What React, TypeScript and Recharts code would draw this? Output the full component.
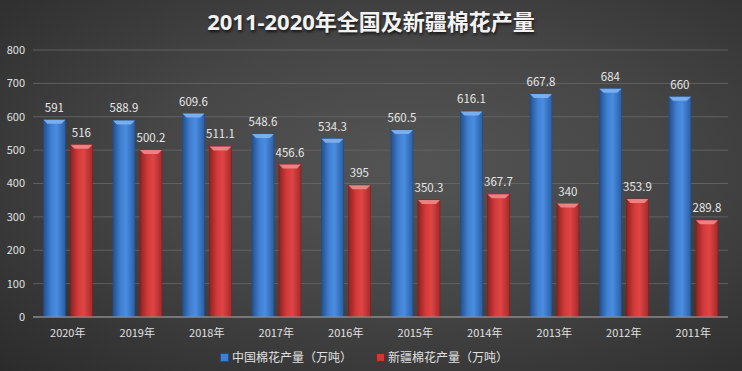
import React from 'react';
import { BarChart, Bar, XAxis, YAxis, CartesianGrid, Legend, LabelList } from 'recharts';

const years = ['2020年', '2019年', '2018年', '2017年', '2016年', '2015年', '2014年', '2013年', '2012年', '2011年'];
const chinaOutput = [591, 588.9, 609.6, 548.6, 534.3, 560.5, 616.1, 667.8, 684, 660];
const xinjiangOutput = [516, 500.2, 511.1, 456.6, 395, 350.3, 367.7, 340, 353.9, 289.8];
const yTicks = [0, 100, 200, 300, 400, 500, 600, 700, 800];

const SERIES = [
  { key: 'china', name: '中国棉花产量（万吨）', grad: 'gBlue', cap: '#7fb4f2', edge: '#1f4f8f', icon: '#3f7fd0' },
  { key: 'xinjiang', name: '新疆棉花产量（万吨）', grad: 'gRed', cap: '#f08a8a', edge: '#8a1c1c', icon: '#d03838' },
];

const chartData = years.map((y, i) => ({ year: y, china: chinaOutput[i], xinjiang: xinjiangOutput[i] }));

const FONT = '"Noto Sans CJK SC", "Noto Sans", sans-serif';

// cylinder-ish bar with a bevelled top like the office 3D style
const makeShape = (grad: string, cap: string, edge: string) => (props: any) => {
  const { x, y, width, height } = props;
  if (!height || height <= 0) return null;
  const b = 4;
  return (
    <g>
      <rect x={x} y={y} width={width} height={height} fill={`url(#${grad})`} stroke={edge} strokeWidth={0.6} />
      <path
        d={`M${x},${y} L${x + width},${y} L${x + width - b},${y + b} L${x + b},${y + b} Z`}
        fill={cap}
        opacity={0.9}
      />
    </g>
  );
};

const LegendContent = () => (
  <div style={{ display: 'flex', justifyContent: 'center', gap: 24, fontFamily: FONT, fontSize: 12, lineHeight: '18px', color: '#e0e0e0', paddingLeft: 0 }}>
    {SERIES.map(s => (
      <span key={s.key} style={{ display: 'flex', alignItems: 'center' }}>
        <span style={{ display: 'inline-block', width: 7, height: 7, marginRight: 3, background: s.icon, border: `1px solid ${s.edge}` }} />
        {s.name}
      </span>
    ))}
  </div>
);

export default function App() {
  return (
    <div
      style={{
        position: 'absolute',
        left: 0,
        top: 0,
        width: 742,
        height: 371,
        background: 'radial-gradient(ellipse at 55% 45%, #545454 0%, #464646 45%, #2b2b2b 100%)',
        overflow: 'hidden',
      }}
    >
      <div
        style={{
          position: 'absolute',
          top: 4,
          left: 0,
          width: 742,
          textAlign: 'center',
          fontFamily: '"Open Sans", "Noto Sans CJK SC", sans-serif',
          fontWeight: 700,
          fontSize: 22,
          color: '#f2f2f2',
          textShadow: '1px 2px 3px rgba(0,0,0,0.7)',
        }}
      >
        2011-2020年全国及新疆棉花产量
      </div>
      <BarChart
        width={742}
        height={371}
        data={chartData}
        margin={{ top: 50, right: 14, left: 0, bottom: 0 }}
        barCategoryGap="15%"
        barGap={5}
      >
        <defs>
          <linearGradient id="gBlue" x1="0" y1="0" x2="1" y2="0">
            <stop offset="0%" stopColor="#234f8c" />
            <stop offset="35%" stopColor="#3f80d2" />
            <stop offset="60%" stopColor="#4a8de0" />
            <stop offset="100%" stopColor="#2a5ea4" />
          </linearGradient>
          <linearGradient id="gRed" x1="0" y1="0" x2="1" y2="0">
            <stop offset="0%" stopColor="#8e2222" />
            <stop offset="35%" stopColor="#d33a3a" />
            <stop offset="60%" stopColor="#e04545" />
            <stop offset="100%" stopColor="#a42a2a" />
          </linearGradient>
        </defs>
        <CartesianGrid vertical={false} stroke="#6a6a6a" strokeWidth={0.8} />
        <XAxis
          dataKey="year"
          height={26}
          tickLine={false}
          axisLine={{ stroke: '#a0a0a0' }}
          tick={{ fill: '#e0e0e0', fontSize: 11, fontFamily: FONT, dy: 4 }}
          interval={0}
        />
        <YAxis
          width={33}
          domain={[0, 800]}
          ticks={yTicks}
          axisLine={false}
          tickLine={false}
          tick={{ fill: '#e0e0e0', fontSize: 11, fontFamily: FONT }}
        />
        <Legend verticalAlign="bottom" height={28} content={<LegendContent />} wrapperStyle={{ bottom: -5 }} />
        {SERIES.map(s => (
          <Bar
            key={s.key}
            dataKey={s.key}
            name={s.name}
            isAnimationActive={false}
            shape={makeShape(s.grad, s.cap, s.edge)}
          >
            <LabelList dataKey={s.key} position="top" offset={8} fill="#e6e6e6" fontSize={11.5} fontFamily={FONT} />
          </Bar>
        ))}
      </BarChart>
    </div>
  );
}
